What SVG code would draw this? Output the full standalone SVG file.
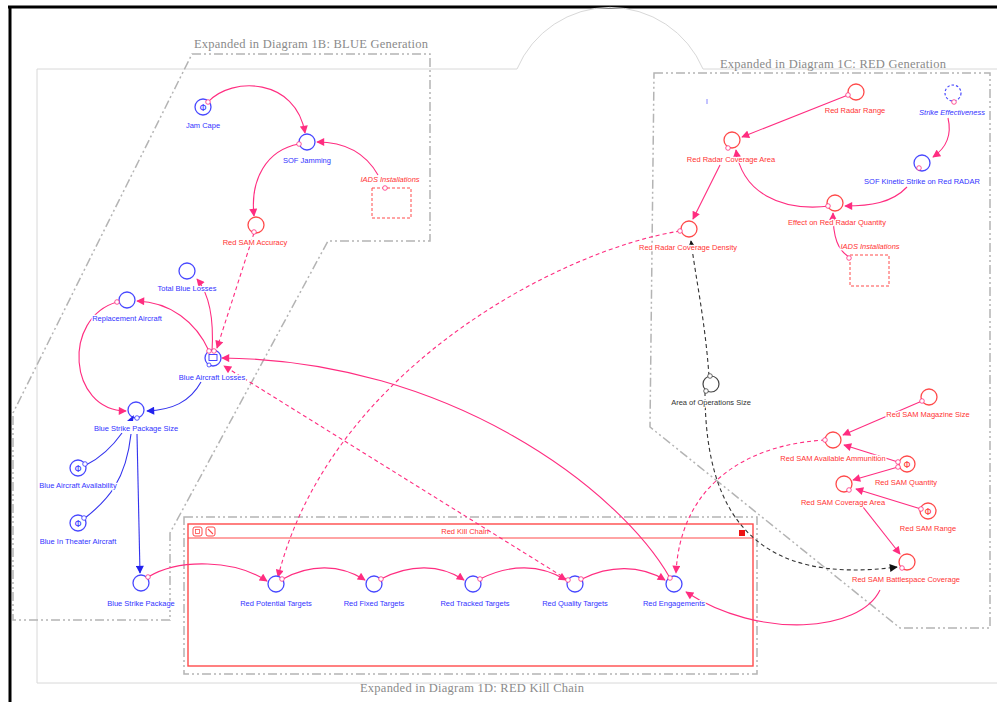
<svg xmlns="http://www.w3.org/2000/svg" width="997" height="702" viewBox="0 0 997 702">
<style>
.lb{font-family:"Liberation Sans",Arial,sans-serif;font-size:7.5px;text-anchor:middle;paint-order:stroke;stroke:#fff;stroke-width:2.5px;stroke-linejoin:round}
.it{font-style:italic}
.tb{fill:#3333ff}.tr{fill:#ff3333}.tk{fill:#333}
.ttl{font-family:"Liberation Serif","Times New Roman",serif;font-size:12.5px;fill:#8a8a8a}
.cb{fill:#fff;stroke:#4848ff;stroke-width:1.3}
.cr{fill:#fff;stroke:#ff4a4a;stroke-width:1.3}
.ck{fill:#fff;stroke:#444;stroke-width:1.2}
.sp{fill:#fff;stroke:#ff2d80;stroke-width:0.8}
.sb{fill:#fff;stroke:#3333ff;stroke-width:0.8}
.sk{fill:#fff;stroke:#444;stroke-width:0.8}
.phi{font-family:"DejaVu Sans",sans-serif;font-size:9px;text-anchor:middle}
.lp{fill:none;stroke:#ff2d80;stroke-width:1.1}
.dsh{stroke-dasharray:4,3}
.lk{fill:none;stroke:#333;stroke-width:1.1;stroke-dasharray:4,3}
.lbl{fill:none;stroke:#3333ee;stroke-width:1.1}
.bnd{fill:none;stroke:#b4b4b4;stroke-width:1.5;stroke-dasharray:9,3,2,3,2,3}
</style>
<defs>
<marker id="ap" viewBox="0 0 10 10" refX="9" refY="5" markerWidth="9" markerHeight="8" markerUnits="userSpaceOnUse" orient="auto"><path d="M0,0 L10,5 L0,10 z" fill="#ff2d80"/></marker>
<marker id="ab" viewBox="0 0 10 10" refX="9" refY="5" markerWidth="9" markerHeight="8" markerUnits="userSpaceOnUse" orient="auto"><path d="M0,0 L10,5 L0,10 z" fill="#2222ee"/></marker>
<marker id="ak" viewBox="0 0 10 10" refX="9" refY="5" markerWidth="9" markerHeight="8" markerUnits="userSpaceOnUse" orient="auto"><path d="M0,0 L10,5 L0,10 z" fill="#111"/></marker>
</defs>
<rect width="997" height="702" fill="#fff"/>
<!-- frames -->
<g id="frame">
<path d="M8,7 H997 M10,7 V702" stroke="#000" stroke-width="3" fill="none"/>
<path d="M37,683 V69 H517 A101,101 0 0 1 703,69 H997 M37,683 H997" stroke="#d8d8d8" stroke-width="1" fill="none"/>
</g>
<g id="boundaries">
<path class="bnd" d="M192,54 H430 V241 H328 L170,533 V620 H13 V413 Z"/>
<path class="bnd" d="M654,73 H990 V628 H900 L650,427 Z"/>
<rect class="bnd" x="184" y="517" width="573" height="157"/>
<text class="ttl" x="194" y="48" textLength="234">Expanded in Diagram 1B: BLUE Generation</text>
<text class="ttl" x="720" y="68" textLength="226">Expanded in Diagram 1C: RED Generation</text>
<text class="ttl" x="360" y="692" textLength="224">Expanded in Diagram 1D: RED Kill Chain</text>
</g>
<g id="module-red-kill-chain">
<rect x="188" y="524" width="565" height="142" fill="none" stroke="#ff4a4a" stroke-width="1.4"/>
<line x1="188" y1="538" x2="753" y2="538" stroke="#ff4a4a" stroke-width="1.2"/>
<rect x="193" y="527" width="9" height="9" rx="2" fill="none" stroke="#ff4a4a" stroke-width="1"/>
<rect x="195.5" y="529.5" width="4" height="4" fill="none" stroke="#ff4a4a" stroke-width="0.8"/>
<rect x="206" y="527" width="9" height="9" rx="2" fill="none" stroke="#ff4a4a" stroke-width="1"/>
<line x1="208" y1="529" x2="213" y2="534" stroke="#ff4a4a" stroke-width="1.1"/>
<rect x="739" y="530" width="6" height="6" fill="#ee1111"/>
<text class="lb tr" x="465" y="534">Red Kill Chain</text>
</g>
<g id="connectors">
<path class="lp" marker-end="url(#ap)" d="M208,102 C232,76 296,78 305,133"/>
<path class="lp" marker-end="url(#ap)" d="M378,175 C365,152 345,142 317,142"/>
<path class="lp" marker-end="url(#ap)" d="M299,144 C266,150 250,180 254,216"/>
<path class="lp" marker-end="url(#ap)" d="M212,352 C214,320 210,295 197,279"/>
<path class="lp" marker-end="url(#ap)" d="M209,351 C196,322 170,302 137,301"/>
<path class="lp" marker-end="url(#ap)" d="M117,302 C62,318 68,410 126,411"/>
<path class="lp" marker-end="url(#ap)" d="M148,577 C180,558 235,560 267,581"/>
<path class="lp" marker-end="url(#ap)" d="M283,579 C310,564 340,564 365,580"/>
<path class="lp" marker-end="url(#ap)" d="M381,579 C410,564 440,564 464,580"/>
<path class="lp" marker-end="url(#ap)" d="M480,579 C510,564 540,564 566,580"/>
<path class="lp" marker-end="url(#ap)" d="M582,579 C610,565 640,565 665,580"/>
<path class="lp" marker-end="url(#ap)" d="M670,578 C620,490 450,360 222,358"/>
<path class="lp" marker-end="url(#ap)" d="M880,590 C860,632 760,640 686,592"/>
<path class="lp" marker-end="url(#ap)" d="M848,95 L742,137"/>
<path class="lp" marker-end="url(#ap)" d="M720,165 L693,219"/>
<path class="lp" marker-end="url(#ap)" d="M830,206 C780,212 742,192 736,150"/>
<path class="lp" marker-end="url(#ap)" d="M948,118 C952,135 946,148 933,157"/>
<path class="lp" marker-end="url(#ap)" d="M907,187 C892,203 870,206 845,206"/>
<path class="lp" marker-end="url(#ap)" d="M849,257 C838,250 833,238 833,213"/>
<path class="lp" marker-end="url(#ap)" d="M922,401 L843,435"/>
<path class="lp" marker-end="url(#ap)" d="M898,462 L844,445"/>
<path class="lp" marker-end="url(#ap)" d="M898,467 L853,480"/>
<path class="lp" marker-end="url(#ap)" d="M921,509 L856,489"/>
<path class="lp" marker-end="url(#ap)" d="M863,507 L900,554"/>
<path class="lp dsh" marker-end="url(#ap)" d="M254,233 L217,348"/>
<path class="lp dsh" marker-end="url(#ap)" d="M568,580 L224,366"/>
<path class="lp dsh" marker-end="url(#ap)" d="M680,231 C560,250 330,370 278,577"/>
<path class="lp dsh" marker-end="url(#ap)" d="M825,440 C740,445 680,490 676,573"/>
<path class="lk" marker-end="url(#ak)" d="M709,376 C705,320 696,280 691,241"/>
<path class="lk" marker-end="url(#ak)" d="M705,392 C705,520 760,585 897,567"/>
<path class="lbl" marker-end="url(#ab)" d="M201,382 C190,402 172,410 147,411"/>
<path class="lbl" marker-end="url(#ab)" d="M137,434 L140,573"/>
<path class="lbl" d="M122,433 C110,450 96,460 86,465"/>
<path class="lbl" d="M131,434 C126,480 108,500 85,518"/>
<line x1="707" y1="99" x2="707" y2="104" stroke="#8888ff" stroke-width="1"/>
</g>
<g id="n-jam-cape"><circle class="cb" cx="203" cy="107" r="8"/><text class="phi tb" x="203" y="110.5">Φ</text><circle class="sp" cx="208" cy="102" r="2.3"/><text class="lb tb" x="203" y="128">Jam Cape</text></g>
<g id="n-sof-jamming"><circle class="cb" cx="307" cy="142" r="8"/><circle class="sp" cx="299" cy="144" r="2.3"/><text class="lb tb" x="307" y="163">SOF Jamming</text></g>
<g id="n-iads-1"><rect x="372" y="188" width="39" height="30" fill="none" stroke="#ff4a4a" stroke-width="1" stroke-dasharray="3,2"/><circle class="sp" cx="385" cy="188" r="2.3"/><text class="lb tr it" x="390" y="182">IADS Installations</text></g>
<g id="n-red-sam-accuracy"><circle class="cr" cx="256" cy="225" r="8"/><circle class="sp" cx="254" cy="232" r="2.3"/><text class="lb tr" x="255" y="245">Red SAM Accuracy</text></g>
<g id="n-total-blue-losses"><circle class="cb" cx="187" cy="271" r="8"/><text class="lb tb" x="187" y="291">Total Blue Losses</text></g>
<g id="n-replacement-aircraft"><circle class="cb" cx="127" cy="300" r="8"/><circle class="sp" cx="117" cy="302" r="2.3"/><text class="lb tb" x="127" y="321">Replacement Aircraft</text></g>
<g id="n-blue-aircraft-losses"><circle class="cb" cx="213" cy="358" r="8"/><rect x="209" y="354.5" width="8" height="6" fill="#fff" stroke="#3333ff" stroke-width="0.9"/><circle class="sp" cx="209" cy="351" r="2.3"/><circle class="sp" cx="214" cy="351" r="2.3"/><circle class="sb" cx="209" cy="365" r="2"/><text class="lb tb" x="212" y="380">Blue Aircraft Losses</text></g>
<g id="n-blue-strike-package-size"><circle class="cb" cx="136" cy="410" r="8"/><path d="M127,421 L134,415 L133,421 Z" fill="#2222ee"/><circle class="sb" cx="137" cy="418" r="2.3"/><text class="lb tb" x="136" y="431">Blue Strike Package Size</text></g>
<g id="n-blue-aircraft-availability"><circle class="cb" cx="78" cy="468" r="8"/><text class="phi tb" x="78" y="471.5">Φ</text><circle class="sb" cx="85" cy="464" r="2.3"/><text class="lb tb" x="78" y="488">Blue Aircraft Availability</text></g>
<g id="n-blue-in-theater-aircraft"><circle class="cb" cx="78" cy="523" r="8"/><text class="phi tb" x="78" y="526.5">Φ</text><circle class="sb" cx="84" cy="518" r="2.3"/><text class="lb tb" x="78" y="544">Blue In Theater Aircraft</text></g>
<g id="n-blue-strike-package"><circle class="cb" cx="141" cy="583" r="8"/><circle class="sp" cx="148" cy="577" r="2.3"/><text class="lb tb" x="141" y="606">Blue Strike Package</text></g>
<g id="n-red-potential-targets"><circle class="cb" cx="276" cy="584" r="8"/><circle class="sp" cx="282" cy="579" r="2.3"/><text class="lb tb" x="276" y="606">Red Potential Targets</text></g>
<g id="n-red-fixed-targets"><circle class="cb" cx="374" cy="584" r="8"/><circle class="sp" cx="381" cy="579" r="2.3"/><text class="lb tb" x="374" y="606">Red Fixed Targets</text></g>
<g id="n-red-tracked-targets"><circle class="cb" cx="473" cy="584" r="8"/><circle class="sp" cx="480" cy="579" r="2.3"/><text class="lb tb" x="475" y="606">Red Tracked Targets</text></g>
<g id="n-red-quality-targets"><circle class="cb" cx="575" cy="584" r="8"/><circle class="sp" cx="568" cy="580" r="2.3"/><circle class="sp" cx="581" cy="579" r="2.3"/><text class="lb tb" x="575" y="606">Red Quality Targets</text></g>
<g id="n-red-engagements"><circle class="cb" cx="674" cy="584" r="8"/><circle class="sp" cx="670" cy="578" r="2.3"/><text class="lb tb" x="674" y="606">Red Engagements</text></g>
<g id="n-red-radar-range"><circle class="cr" cx="856" cy="92" r="8"/><circle class="sp" cx="848" cy="95" r="2.3"/><text class="lb tr" x="855" y="113">Red Radar Range</text></g>
<g id="n-red-radar-coverage-area"><circle class="cr" cx="732" cy="140" r="8"/><circle class="sp" cx="728" cy="148" r="2.3"/><text class="lb tr" x="731" y="162">Red Radar Coverage Area</text></g>
<g id="n-red-radar-coverage-density"><circle class="cr" cx="689" cy="229" r="8"/><circle class="sp" cx="680" cy="231" r="2.3"/><text class="lb tr" x="688" y="250">Red Radar Coverage Density</text></g>
<g id="n-strike-effectiveness"><circle cx="953" cy="93" r="8" fill="#fff" stroke="#4848ff" stroke-width="1.2" stroke-dasharray="2.5,2"/><circle class="sp" cx="954" cy="102" r="2.3"/><text class="lb tb it" x="952" y="115">Strike Effectiveness</text></g>
<g id="n-sof-kinetic-strike"><circle class="cb" cx="922" cy="163" r="8"/><circle class="sp" cx="919" cy="168" r="2.3"/><text class="lb tb" x="922" y="184">SOF Kinetic Strike on Red RADAR</text></g>
<g id="n-effect-on-red-radar-quantity"><circle class="cr" cx="835" cy="203" r="8"/><circle class="sp" cx="828" cy="206" r="2.3"/><text class="lb tr" x="837" y="225">Effect on Red Radar Quantity</text></g>
<g id="n-iads-2"><rect x="850" y="255" width="39" height="31" fill="none" stroke="#ff4a4a" stroke-width="1" stroke-dasharray="3,2"/><circle class="sp" cx="849" cy="258" r="2.3"/><text class="lb tr it" x="870" y="249">IADS Installations</text></g>
<g id="n-area-of-operations-size"><circle class="ck" cx="711" cy="384" r="8"/><circle class="sk" cx="710" cy="376" r="2.3"/><circle class="sk" cx="706" cy="391" r="2.3"/><text class="lb tk" x="711" y="405">Area of Operations Size</text></g>
<g id="n-red-sam-magazine-size"><circle class="cr" cx="929" cy="397" r="8"/><circle class="sp" cx="922" cy="401" r="2.3"/><text class="lb tr" x="928" y="417">Red SAM Magazine Size</text></g>
<g id="n-red-sam-available-ammunition"><circle class="cr" cx="833" cy="440" r="8"/><circle class="sp" cx="825" cy="440" r="2.3"/><text class="lb tr" x="833" y="461">Red SAM Available Ammunition</text></g>
<g id="n-red-sam-quantity"><circle class="cr" cx="907" cy="464" r="8"/><text class="phi tr" x="907" y="467.5">Φ</text><circle class="sp" cx="898" cy="462" r="2.3"/><circle class="sp" cx="898" cy="467" r="2.3"/><text class="lb tr" x="906" y="485">Red SAM Quantity</text></g>
<g id="n-red-sam-coverage-area"><circle class="cr" cx="844" cy="484" r="8"/><circle class="sp" cx="849" cy="490" r="2.3"/><text class="lb tr" x="843" y="505">Red SAM Coverage Area</text></g>
<g id="n-red-sam-range"><circle class="cr" cx="928" cy="511" r="8"/><text class="phi tr" x="928" y="514.5">Φ</text><circle class="sp" cx="921" cy="509" r="2.3"/><text class="lb tr" x="928" y="531">Red SAM Range</text></g>
<g id="n-red-sam-battlespace-coverage"><circle class="cr" cx="907" cy="562" r="8"/><circle class="sp" cx="902" cy="568" r="2.3"/><text class="lb tr" x="906" y="582">Red SAM Battlespace Coverage</text></g>
</svg>
